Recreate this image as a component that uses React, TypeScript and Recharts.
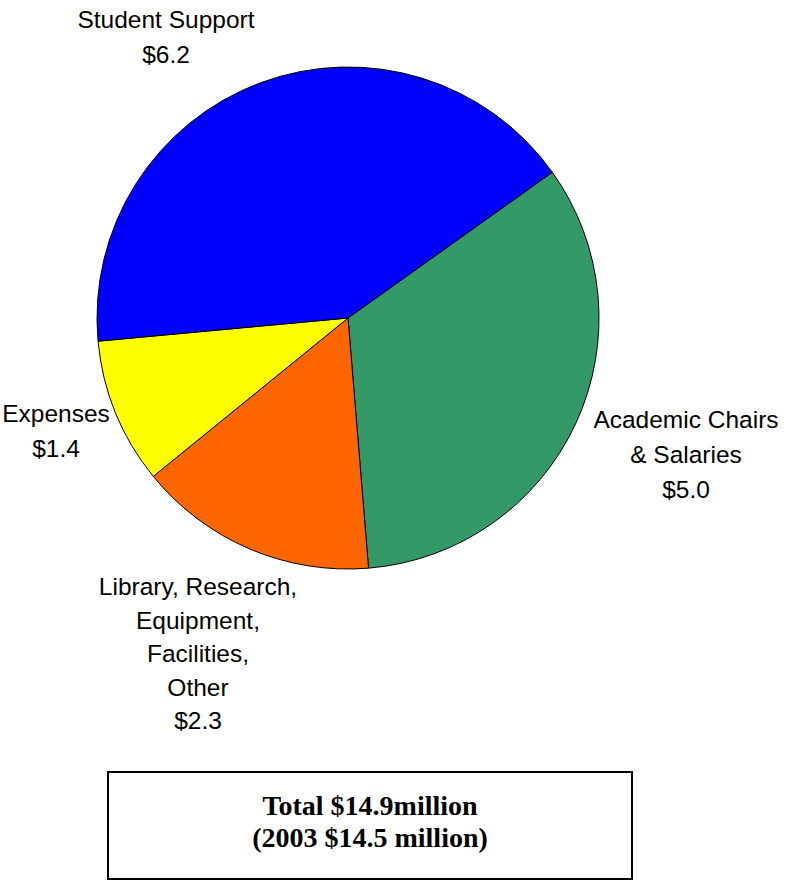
import React from "react";
import { PieChart, Pie, Cell } from "recharts";

// Endowment spending, $ millions
const categories = [
  "Academic Chairs & Salaries",
  "Library, Research, Equipment, Facilities, Other",
  "Expenses",
  "Student Support",
];
const amounts = [5.0, 2.3, 1.4, 6.2];
const labelLines = [
  ["Academic Chairs", "& Salaries", "$5.0"],
  ["Library, Research,", "Equipment,", "Facilities,", "Other", "$2.3"],
  ["Expenses", "$1.4"],
  ["Student Support", "$6.2"],
];
const sliceColors = ["#339966", "#FF6600", "#FFFF00", "#0000FF"];

// label anchor (centre of first baseline) relative to pie centre, and line step
const labelAnchors = [
  { dx: 338, dy: 110, step: 35 },
  { dx: -150, dy: 277, step: 33.5 },
  { dx: -292, dy: 104, step: 35 },
  { dx: -182, dy: -290, step: 35 },
];

const pieData = categories.map((name, i) => ({ name, value: amounts[i] }));

const renderLabel = (props: any) => {
  const { cx, cy, index } = props;
  const a = labelAnchors[index];
  const lines = labelLines[index];
  return (
    <text
      x={cx + a.dx}
      y={cy + a.dy}
      textAnchor="middle"
      fill="#000"
      fontFamily="'Liberation Sans', Arial, sans-serif"
      fontSize={24.5}
    >
      {lines.map((line, i) => (
        <tspan key={i} x={cx + a.dx} y={cy + a.dy + i * a.step}>
          {line}
        </tspan>
      ))}
    </text>
  );
};

const App: React.FC = () => {
  return (
    <div
      style={{
        position: "absolute",
        left: 0,
        top: 0,
        width: 787,
        height: 882,
        background: "#fff",
      }}
    >
      <PieChart width={787} height={882} margin={{ top: 0, right: 0, bottom: 0, left: 0 }}>
        <Pie
          data={pieData}
          dataKey="value"
          nameKey="name"
          cx={348}
          cy={318}
          outerRadius={251}
          startAngle={35.5}
          endAngle={-324.5}
          stroke="#000"
          strokeWidth={1}
          label={renderLabel}
          labelLine={false}
          isAnimationActive={false}
        >
          {pieData.map((entry, index) => (
            <Cell key={`cell-${index}`} fill={sliceColors[index]} />
          ))}
        </Pie>
      </PieChart>

      {/* Total box */}
      <div
        style={{
          position: "absolute",
          left: 107,
          top: 771,
          width: 526,
          height: 109,
          border: "2px solid #000",
          boxSizing: "border-box",
          fontFamily: "'Liberation Serif', 'Times New Roman', serif",
          fontWeight: "bold",
          fontSize: 28,
          lineHeight: "32px",
          textAlign: "center",
          paddingTop: 17,
        }}
      >
        <div>Total $14.9million</div>
        <div>(2003 $14.5 million)</div>
      </div>
    </div>
  );
};

export default App;
